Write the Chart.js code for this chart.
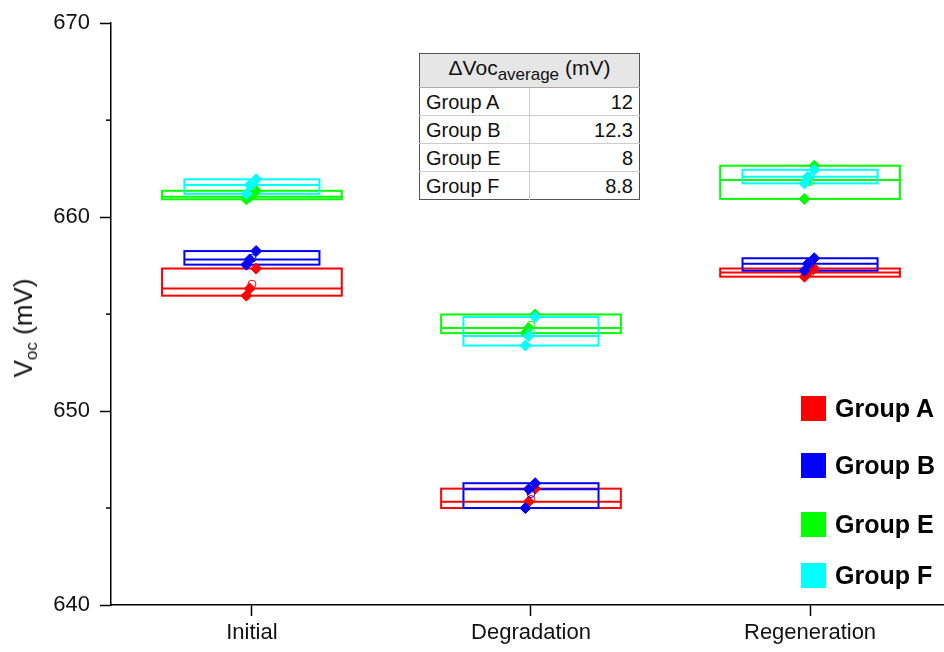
<!DOCTYPE html>
<html>
<head>
<meta charset="utf-8">
<title>Voc box chart</title>
<script src="https://cdn.jsdelivr.net/npm/chart.js@4.4.1/dist/chart.umd.min.js"></script>
<style>
  html, body { margin: 0; padding: 0; background: #fff; }
  #wrap { position: relative; width: 944px; height: 652px; overflow: hidden;
          font-family: 'Liberation Sans', Arial, sans-serif; color: #111; }
  #chart { position: absolute; left: 0; top: 0; }
  #ytitle { position: absolute; left: 25px; top: 328px; white-space: nowrap; font-size: 26px;
            transform: translate(-50%, -50%) rotate(-90deg); }
  #ytitle sub { font-size: 17px; vertical-align: -5px; }
  #deltaTable { position: absolute; left: 419px; top: 53px; width: 221px; border-collapse: collapse;
                font-size: 20px; border: 1px solid #555; background: #fff; table-layout: fixed; }
  #deltaTable th { background: #e6e6e6; font-weight: normal; height: 33px; padding: 0;
                   border-bottom: 1px solid #aaa; font-size: 21px; }
  #deltaTable th sub { font-size: 17px; vertical-align: -5px; }
  #deltaTable td { height: 27px; padding: 0 6px; border-top: 1px solid #ccc; line-height: 20px; }
  #deltaTable td:first-child { width: 98px; }
  #deltaTable td + td { text-align: right; border-left: 1px solid #ccc; }
  .leg { position: absolute; left: 801px; height: 25px; display: flex; align-items: center;
         font-weight: bold; font-size: 25px; color: #000; }
  .leg span { display: inline-block; width: 25px; height: 25px; margin-right: 9px; }
</style>
</head>
<body>
<div id="wrap">
  <canvas id="chart" width="944" height="652"></canvas>
  <div id="ytitle">V<sub>oc</sub> (mV)</div>
  <table id="deltaTable"></table>
</div>
<script>
// stages on the x axis and the groups
const STAGES = ['Initial', 'Degradation', 'Regeneration'];
const GROUPS = ['Group A', 'Group B', 'Group E', 'Group F'];

// three Voc readings (mV) per group for Initial, Degradation, Regeneration
const groupA = [[657.35, 656.32, 655.95], [646.0, 645.33, 645.0], [657.35, 657.14, 656.93]];
const groupB = [[658.25, 657.82, 657.55], [646.28, 645.97, 645.0], [657.88, 657.6, 657.24]];
const groupE = [[661.36, 661.05, 660.92], [654.98, 654.28, 654.02], [662.65, 661.92, 660.94]];
const groupF = [[661.95, 661.66, 661.2], [654.85, 653.87, 653.38], [662.44, 662.08, 661.74]];

// average Voc change shown in the inset table
const deltaVoc = ['12', '12.3', '8', '8.8'];

const yTicks = [640, 650, 660, 670];
const yMinorTicks = [645, 655, 665];

const SERIES = [groupA, groupB, groupE, groupF];
const COLORS = ['#ff0000', '#0000ff', '#00ff00', '#00ffff'];
const BOX_HALF = [0.322, 0.242, 0.322, 0.242];   // half box width, x units
const JITTER = [0.015, -0.008, -0.02];
const FONT = "'Liberation Sans', Arial, sans-serif";

// inset table
const table = document.getElementById('deltaTable');
table.innerHTML = '<tr><th colspan="2">&Delta;Voc<sub>average</sub> (mV)</th></tr>' +
    GROUPS.map((g, i) => '<tr><td>' + g + '</td><td>' + deltaVoc[i] + '</td></tr>').join('');

// legend on the right
const legendTops = [396, 453, 512, 563];
GROUPS.forEach((g, i) => {
    const d = document.createElement('div');
    d.className = 'leg';
    d.style.top = legendTops[i] + 'px';
    d.innerHTML = '<span style="background:' + COLORS[i] + '"></span>' + g;
    document.getElementById('wrap').appendChild(d);
});

function sorted(pts) {
    return pts.slice().sort((a, b) => a - b);
}

// box (min / median / max) for every group and stage, plus minor y ticks
const boxPlugin = {
    id: 'boxes',
    beforeDatasetsDraw(chart) {
        const { ctx, scales: { x, y } } = chart;
        ctx.save();
        ctx.lineWidth = 2;
        SERIES.forEach((stages, g) => {
            ctx.strokeStyle = COLORS[g];
            stages.forEach((pts, s) => {
                const v = sorted(pts);
                const x0 = x.getPixelForValue(s - BOX_HALF[g]);
                const x1 = x.getPixelForValue(s + BOX_HALF[g]);
                const yTop = y.getPixelForValue(v[2]);
                const yBot = y.getPixelForValue(v[0]);
                const yMed = y.getPixelForValue(v[1]);
                ctx.strokeRect(x0, yTop, x1 - x0, yBot - yTop);
                ctx.beginPath();
                ctx.moveTo(x0, yMed);
                ctx.lineTo(x1, yMed);
                ctx.stroke();
            });
        });
        ctx.restore();
    },
    afterDraw(chart) {
        const { ctx, scales: { y } } = chart;
        ctx.save();
        ctx.strokeStyle = '#000';
        ctx.lineWidth = 1.5;
        yMinorTicks.forEach(v => {
            const py = y.getPixelForValue(v);
            ctx.beginPath();
            ctx.moveTo(y.right - 5, py);
            ctx.lineTo(y.right, py);
            ctx.stroke();
        });
        ctx.restore();
    }
};

const datasets = [];
SERIES.forEach((stages, g) => {
    datasets.push({
        label: GROUPS[g],
        data: stages.flatMap((pts, s) => pts.map((v, i) => ({ x: s + JITTER[i], y: v }))),
        pointStyle: 'rectRot',
        pointRadius: 5.5,
        backgroundColor: COLORS[g],
        borderColor: COLORS[g],
        borderWidth: 1,
        showLine: false,
        order: 4 - g
    });
    datasets.push({
        label: GROUPS[g] + ' mean',
        data: stages.map((pts, s) => ({ x: s, y: pts.reduce((a, b) => a + b, 0) / pts.length })),
        pointStyle: 'circle',
        pointRadius: 4,
        backgroundColor: 'rgba(0,0,0,0)',
        borderColor: COLORS[g],
        borderWidth: 1,
        showLine: false,
        order: 4 - g
    });
});

new Chart(document.getElementById('chart'), {
    type: 'scatter',
    data: { datasets },
    options: {
        responsive: false,
        animation: false,
        layout: { autoPadding: false, padding: { top: 20, right: 0, bottom: 0, left: 0 } },
        plugins: { legend: { display: false }, tooltip: { enabled: false } },
        scales: {
            x: {
                type: 'linear',
                min: -0.505,
                max: 2.48,
                afterBuildTicks: s => { s.ticks = STAGES.map((_, i) => ({ value: i })); },
                afterFit: s => { s.height = 47; },
                grid: { drawOnChartArea: false, tickLength: 11, color: '#000', tickWidth: 1.5 },
                border: { color: '#000', width: 1.5 },
                ticks: {
                    callback: v => STAGES[v],
                    font: { family: FONT, size: 22 },
                    color: '#111',
                    padding: 4,
                    maxRotation: 0,
                    autoSkip: false
                }
            },
            y: {
                min: 640,
                max: 670,
                afterBuildTicks: s => { s.ticks = yTicks.map(v => ({ value: v })); },
                afterFit: s => { s.width = 111; },
                grid: { drawOnChartArea: false, tickLength: 11, color: '#000', tickWidth: 1.5 },
                border: { color: '#000', width: 1.5 },
                ticks: {
                    font: { family: FONT, size: 22 },
                    color: '#111',
                    padding: 10
                }
            }
        }
    },
    plugins: [boxPlugin]
});
</script>
</body>
</html>
